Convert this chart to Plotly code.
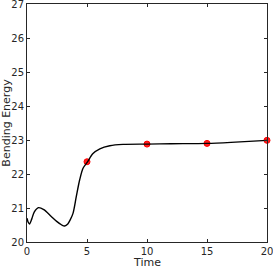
import plotly.graph_objects as go

# curve samples
time = [0.0, 0.1, 0.21, 0.4, 0.6, 0.96, 1.4, 2.0, 2.5, 2.9, 3.14, 3.4, 3.6, 3.84, 4.11, 4.39, 4.67, 5.03, 5.5, 6.07, 6.9, 8.0, 10.0, 12.0, 15.0, 17.0, 20.0]
energy = [20.70, 20.58, 20.53, 20.68, 20.88, 21.01, 20.95, 20.76, 20.60, 20.50, 20.47, 20.53, 20.65, 20.85, 21.34, 21.83, 22.17, 22.35, 22.60, 22.74, 22.83, 22.87, 22.88, 22.89, 22.90, 22.93, 22.99]

# red sample markers
mark_t = [5, 10, 15, 20]
mark_e = [22.36, 22.88, 22.90, 22.99]

x_ticks = [0, 5, 10, 15, 20]
y_ticks = [20, 21, 22, 23, 24, 25, 26, 27]

fig = go.Figure()
fig.add_trace(go.Scatter(x=mark_t, y=mark_e, mode="markers",
                         marker=dict(symbol="circle", size=6, color="#ff2020",
                                     line=dict(color="#ff0000", width=1)),
                         cliponaxis=False, showlegend=False))
fig.add_trace(go.Scatter(x=time, y=energy, mode="lines",
                         line=dict(color="black", width=1.4, shape="spline", smoothing=0.8),
                         cliponaxis=False, showlegend=False))

axis_common = dict(showgrid=False, zeroline=False, showline=True, linecolor="#262626",
                   linewidth=1, mirror="ticks", ticks="inside", ticklen=3, tickwidth=1,
                   tickcolor="#262626", automargin=False, ticklabeloverflow="allow",
                   tickfont=dict(family="DejaVu Sans", size=10, color="#262626"))

fig.update_xaxes(range=[0, 20], tickvals=x_ticks, **axis_common)
fig.update_yaxes(range=[20, 27], tickvals=y_ticks, title=dict(text="Bending Energy", standoff=2,
                 font=dict(family="DejaVu Sans", size=11, color="#262626")), **axis_common)

fig.add_annotation(text="Time", xref="paper", yref="paper", x=0.5, y=-0.088,
                   xanchor="center", yanchor="middle", showarrow=False,
                   font=dict(family="DejaVu Sans", size=11, color="#262626"))

fig.update_layout(width=273, height=268, margin=dict(l=27, r=6, t=4, b=26),
                  plot_bgcolor="white", paper_bgcolor="white")

fig.write_html("out.html", config={"displayModeBar": False},
               post_script="document.body.style.margin='0';document.body.style.overflow='hidden';")
